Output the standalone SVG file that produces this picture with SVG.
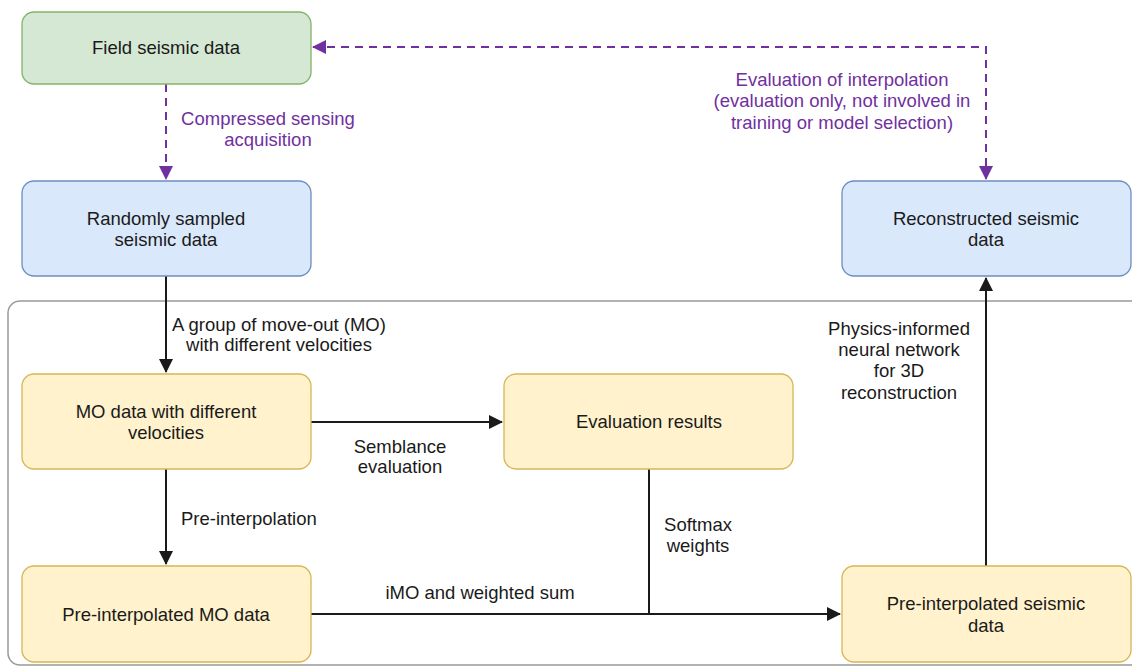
<svg xmlns="http://www.w3.org/2000/svg" width="1132" height="667" viewBox="0 0 1132 667">
<style>
text{font-family:"Liberation Sans",Arial,sans-serif;font-size:18.5px;fill:#1a1a1a;text-anchor:middle}
.p{fill:#7030a0}
.l{text-anchor:start}
.g rect{stroke-width:1.3}
.green{fill:#d5e8d4;stroke:#82b366}
.blue{fill:#dae8fc;stroke:#6c8ebf}
.yel{fill:#fff2cc;stroke:#d6b656}
.c{fill:none;stroke:#1a1a1a;stroke-width:2}
.d{fill:none;stroke:#7030a0;stroke-width:2;stroke-dasharray:8 6}
</style>
<defs>
<marker id="ap" markerWidth="16" markerHeight="16" refX="13" refY="7" orient="auto-start-reverse" markerUnits="userSpaceOnUse"><path d="M0,0 L14,7 L0,14 Z" fill="#7030a0"/></marker>
<marker id="ak" markerWidth="16" markerHeight="16" refX="13" refY="7" orient="auto" markerUnits="userSpaceOnUse"><path d="M0,0 L14,7 L0,14 Z" fill="#1a1a1a"/></marker>
</defs>
<rect id="container" x="8" y="301" width="1140" height="364" rx="12" fill="none" stroke="#999" stroke-width="1.5"/>
<g id="connectors">
<path class="d" d="M166,84 V179" marker-end="url(#ap)"/>
<path class="d" d="M313,47 H986 V179" marker-start="url(#ap)" marker-end="url(#ap)"/>
<path class="c" d="M166,276 V372" marker-end="url(#ak)"/>
<path class="c" d="M311,422 H502" marker-end="url(#ak)"/>
<path class="c" d="M166,469 V564" marker-end="url(#ak)"/>
<path class="c" d="M311,614 H840" marker-end="url(#ak)"/>
<path class="c" d="M649,469 V614"/>
<path class="c" d="M986,566 V278" marker-end="url(#ak)"/>
<text class="p" x="268" y="125">Compressed sensing</text>
<text class="p" x="268" y="146">acquisition</text>
<text class="p" x="842" y="86">Evaluation of interpolation</text>
<text class="p" x="842" y="107">(evaluation only, not involved in</text>
<text class="p" x="842" y="129">training or model selection)</text>
<text x="279" y="331">A group of move-out (MO)</text>
<text x="279" y="351">with different velocities</text>
<text x="400" y="453">Semblance</text>
<text x="400" y="473">evaluation</text>
<text class="l" x="181" y="525">Pre-interpolation</text>
<text x="480" y="599">iMO and weighted sum</text>
<text x="698" y="531">Softmax</text>
<text x="698" y="552">weights</text>
<text x="899" y="335">Physics-informed</text>
<text x="899" y="356">neural network</text>
<text x="899" y="377">for 3D</text>
<text x="899" y="399">reconstruction</text>
</g>
<g id="field" class="g"><rect class="green" x="22" y="12" width="289" height="72" rx="12"/><text x="166" y="54">Field seismic data</text></g>
<g id="random" class="g"><rect class="blue" x="22" y="181" width="289" height="95" rx="12"/><text x="166" y="225">Randomly sampled</text><text x="166" y="246">seismic data</text></g>
<g id="recon" class="g"><rect class="blue" x="842" y="181" width="289" height="95" rx="12"/><text x="986" y="225">Reconstructed seismic</text><text x="986" y="246">data</text></g>
<g id="mo" class="g"><rect class="yel" x="22" y="374" width="289" height="95" rx="12"/><text x="166" y="418">MO data with different</text><text x="166" y="439">velocities</text></g>
<g id="eval" class="g"><rect class="yel" x="504" y="374" width="289" height="95" rx="12"/><text x="649" y="428">Evaluation results</text></g>
<g id="premo" class="g"><rect class="yel" x="22" y="566" width="289" height="96" rx="12"/><text x="166" y="621">Pre-interpolated MO data</text></g>
<g id="preseis" class="g"><rect class="yel" x="842" y="566" width="289" height="96" rx="12"/><text x="986" y="610">Pre-interpolated seismic</text><text x="986" y="632">data</text></g>
</svg>
